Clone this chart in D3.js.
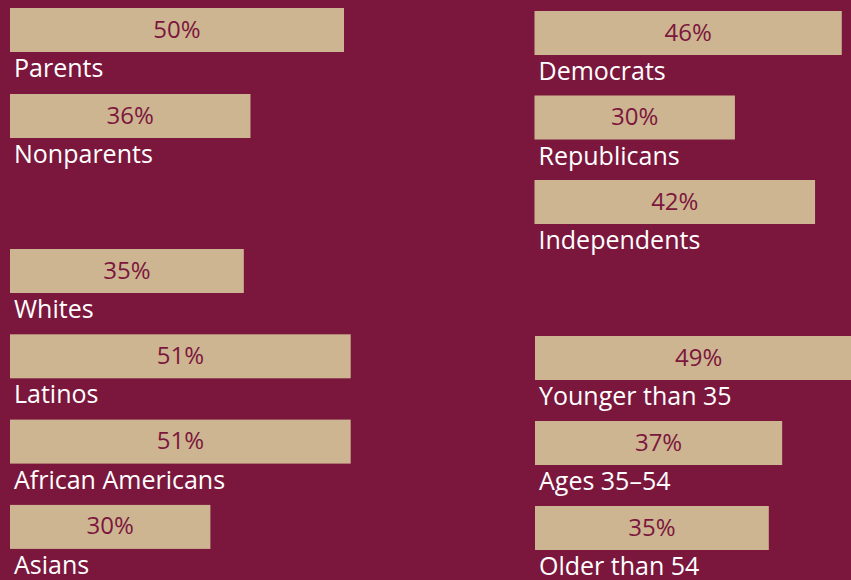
<!DOCTYPE html>
<meta charset="utf-8">
<style>
body { margin: 0; background: #7b173d; }
text { font-family: "Open Sans", Lato, sans-serif; }
</style>
<body>
<script src="https://d3js.org/d3.v7.min.js"></script>
<script>
// values
var parentLabels = ["Parents", "Nonparents"],
    parentValues = [50, 36];
var raceLabels = ["Whites", "Latinos", "African Americans", "Asians"],
    raceValues = [35, 51, 51, 30];
var partyLabels = ["Democrats", "Republicans", "Independents"],
    partyValues = [46, 30, 42];
var ageLabels = ["Younger than 35", "Ages 35\u201354", "Older than 54"],
    ageValues = [49, 37, 35];

var width = 851,
    height = 580,
    barH = 44;

var bg = "#7b173d",
    tan = "#ceb591";

// group placement (layout only)
var groups = [
  {labels: parentLabels, values: parentValues, x: 10,  top: 8,   step: 86},
  {labels: raceLabels,   values: raceValues,   x: 10,  top: 249, step: 85.3},
  {labels: partyLabels,  values: partyValues,  x: 534.5, top: 11, step: 84.5},
  {labels: ageLabels,    values: ageValues,    x: 535, top: 336, step: 85}
];

var x = d3.scaleLinear()
    .domain([0, 50])
    .range([0, 334]);

var svg = d3.select("body").append("svg")
    .attr("width", width)
    .attr("height", height)
    .style("display", "block");

svg.append("rect")
    .attr("width", width)
    .attr("height", height)
    .attr("fill", bg);

groups.forEach(function(grp) {
  var y = d3.scaleLinear()
      .domain([0, 1])
      .range([grp.top, grp.top + grp.step]);

  var rows = grp.labels.map(function(l, i) { return {label: l, value: grp.values[i], i: i}; });

  var g = svg.append("g")
      .attr("transform", "translate(" + grp.x + ",0)");

  var row = g.selectAll("g.row")
      .data(rows)
    .enter().append("g")
      .attr("class", "row")
      .attr("transform", function(d) { return "translate(0," + y(d.i) + ")"; });

  row.append("rect")
      .attr("width", function(d) { return x(d.value); })
      .attr("height", barH)
      .attr("fill", tan);

  row.append("text")
      .attr("x", function(d) { return x(d.value) / 2; })
      .attr("y", 29.5)
      .attr("text-anchor", "middle")
      .attr("fill", bg)
      .style("font-size", "24px")
      .text(function(d) { return d.value + "%"; });

  row.append("text")
      .attr("x", 4)
      .attr("y", 69)
      .attr("fill", "#fff")
      .style("font-size", "25px")
      .text(function(d) { return d.label; });
});
</script>
